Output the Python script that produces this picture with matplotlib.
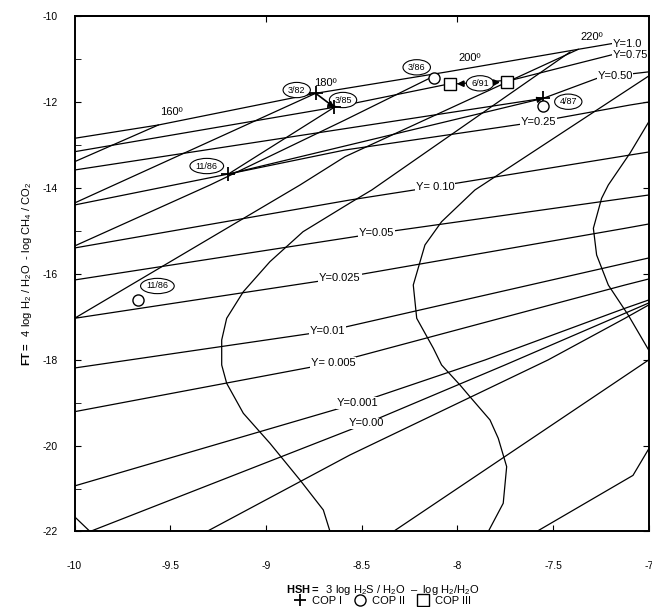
import numpy as np
import matplotlib
matplotlib.use("Agg")
import matplotlib.pyplot as plt
from matplotlib.lines import Line2D

plt.rcParams['font.family'] = ['Liberation Sans', 'DejaVu Sans']
plt.rcParams['axes.unicode_minus'] = False
plt.rcParams['mathtext.fontset'] = 'custom'
plt.rcParams['mathtext.rm'] = 'Liberation Sans'
plt.rcParams['mathtext.it'] = 'Liberation Sans:italic'
plt.rcParams['mathtext.bf'] = 'Liberation Sans:bold'

# lines of constant Y (HSH, FT)
y100_x = [-10.0, -9.562, -8.740, -8.049, -7.368, -7.19]
y100_y = [-12.847, -12.537, -11.799, -11.297, -10.775, -10.64]
y075_x = [-10.0, -8.643, -8.059, -7.714, -7.19]
y075_y = [-13.159, -12.125, -11.595, -11.490, -10.90]
y050_x = [-10.0, -7.551, -7.265, -7.176, -7.0]
y050_y = [-13.585, -11.916, -11.443, -11.39, -11.30]
y025_x = [-10.0, -9.196, -8.587, -7.578, -7.098, -7.0]
y025_y = [-14.399, -13.678, -13.119, -12.460, -12.072, -12.002]
y010_x = [-10.0, -8.561, -8.117, -7.098, -7.0]
y010_y = [-15.400, -14.283, -13.974, -13.236, -13.166]
y005_x = [-10.0, -8.421, -7.124, -7.0]
y005_y = [-16.145, -15.058, -14.244, -14.167]
y0025_x = [-10.0, -8.613, -7.124, -7.0]
y0025_y = [-17.037, -16.099, -14.942, -14.842]
y001_x = [-10.0, -8.676, -7.124, -7.0]
y001_y = [-18.194, -17.332, -15.757, -15.633]
y0005_x = [-10.0, -8.649, -7.124, -7.0]
y0005_y = [-19.211, -18.077, -16.262, -16.122]
y0001_x = [-10.0, -8.519, -7.855, -7.124, -7.0]
y0001_y = [-20.940, -19.008, -18.007, -16.804, -16.611]
y000_x = [-9.919, -8.473, -7.751, -7.124, -7.0]
y000_y = [-22.0, -19.481, -18.124, -16.920, -16.681]

# isotherms and other grid lines
iso160_x = [-9.562, -10.0]
iso160_y = [-12.537, -13.392]
iso180_x = [-8.740, -10.0]
iso180_y = [-11.799, -14.353]
iso200_x = [-8.10, -8.587, -9.292, -10.0]
iso200_y = [-11.35, -12.421, -13.934, -15.354]
iso220_x = [-7.368, -8.587, -8.822, -10.0]
iso220_y = [-10.775, -13.275, -13.934, -17.037]
curve1_x = [-7.411, -8.447, -8.561, -8.806, -8.979, -9.118, -9.205, -9.231,
            -9.231, -9.205, -9.118, -8.979, -8.822, -8.700, -8.665]
curve1_y = [-10.838, -14.050, -14.353, -15.021, -15.719, -16.418, -17.037, -17.542,
            -18.124, -18.550, -19.248, -19.946, -20.801, -21.499, -22.0]
curve2_x = [-7.0, -7.098, -7.908, -8.082, -8.169, -8.230, -8.212, -8.125,
            -8.082, -7.986, -7.934, -7.829, -7.786, -7.742, -7.760, -7.838]
curve2_y = [-11.397, -11.683, -14.050, -14.788, -15.330, -16.262, -17.037, -17.735,
            -18.124, -18.589, -18.862, -19.404, -19.830, -20.491, -21.343, -22.0]
curve3_x = [-7.0, -7.098, -7.211, -7.246, -7.289, -7.272, -7.211, -7.107, -7.0]
curve3_y = [-12.467, -13.196, -13.934, -14.244, -14.942, -15.563, -16.262, -16.960, -17.775]
linea_x = [-9.309, -8.561, -7.526, -7.124, -7.0]
linea_y = [-22.0, -20.219, -18.007, -17.037, -16.727]
lineb_x = [-8.334, -7.0]
lineb_y = [-22.0, -18.007]
linec_x = [-7.585, -7.082, -7.0]
linec_y = [-22.0, -20.694, -20.079]
lined_x = [-10.0, -9.919]
lined_y = [-21.655, -22.0]
tie1_x = [-8.643, -9.196]
tie1_y = [-12.125, -13.678]
tie2_x = [-9.196, -7.551]
tie2_y = [-13.678, -11.916]

# samples
cop1_x = [-8.740, -8.643, -9.196, -7.551]
cop1_y = [-11.799, -12.125, -13.678, -11.916]
cop2_x = [-8.120, -7.554, -9.667]
cop2_y = [-11.436, -12.088, -16.611]
cop3_x = [-8.038, -7.739]
cop3_y = [-11.583, -11.529]

sample_labels = ['3/82', '3/85', '3/86', '6/91', '4/87', '11/86', '11/86']
sample_x = [-8.839, -8.597, -8.212, -7.881, -7.420, -9.309, -9.567]
sample_y = [-11.723, -11.955, -11.194, -11.567, -11.995, -13.492, -16.285]

temp_labels = ['160º', '180º', '200º', '220º']
temp_x = [-9.492, -8.691, -7.934, -7.298]
temp_y = [-12.228, -11.553, -10.985, -10.482]

x_ticks = [-10, -9.5, -9, -8.5, -8, -7.5, -7]
x_ticklabels = ['-10', '-9.5', '-9', '-8.5', '-8', '-7.5', '-7']
y_ticks = [-10, -12, -14, -16, -18, -20, -22]
y_ticklabels = ['-10', '-12', '-14', '-16', '-18', '-20', '-22']

fig = plt.figure(figsize=(6.52, 6.07), dpi=100)
ax = fig.add_axes([0.1143, 0.1244, 0.8806, 0.8492])

y_lines = [
    (y100_x, y100_y, 'Y=1.0', 5, 'left'),
    (y075_x, y075_y, 'Y=0.75', 4, 'left'),
    (y050_x, y050_y, 'Y=0.50', 3, 'center'),
    (y025_x, y025_y, 'Y=0.25', 3, 'center'),
    (y010_x, y010_y, 'Y= 0.10', 2, 'center'),
    (y005_x, y005_y, 'Y=0.05', 1, 'center'),
    (y0025_x, y0025_y, 'Y=0.025', 1, 'center'),
    (y001_x, y001_y, 'Y=0.01', 1, 'center'),
    (y0005_x, y0005_y, 'Y= 0.005', 1, 'center'),
    (y0001_x, y0001_y, 'Y=0.001', 1, 'center'),
    (y000_x, y000_y, 'Y=0.00', 1, 'center'),
]
for xs, ys, lab, i, ha in y_lines:
    ax.plot(xs, ys, color='black', lw=0.9)
    ax.text(xs[i], ys[i], lab, fontsize=8, ha=ha, va='center', zorder=3,
            bbox=dict(fc='white', ec='none', pad=0.6))

others = [(iso160_x, iso160_y), (iso180_x, iso180_y), (iso200_x, iso200_y),
          (iso220_x, iso220_y), (curve1_x, curve1_y), (curve2_x, curve2_y),
          (curve3_x, curve3_y), (linea_x, linea_y), (lineb_x, lineb_y),
          (linec_x, linec_y), (lined_x, lined_y), (tie1_x, tie1_y)]
for xs, ys in others:
    ax.plot(xs, ys, color='black', lw=0.9)

# 11/86 -> 4/87 with a head at 4/87
ax.annotate('', xy=(tie2_x[1], tie2_y[1]), xytext=(tie2_x[0], tie2_y[0]),
            arrowprops=dict(arrowstyle='-|>', color='black', lw=0.9, mutation_scale=9,
                            shrinkA=0, shrinkB=0), zorder=4)

for t, x, y in zip(temp_labels, temp_x, temp_y):
    ax.text(x, y, t, fontsize=8, ha='center', va='center', zorder=3)

ax.plot(cop1_x, cop1_y, '+', ms=10, mew=1.3, color='black', zorder=6)
ax.plot(cop2_x, cop2_y, 'o', ms=8, mfc='white', mec='black', mew=1, zorder=6)
ax.plot(cop3_x, cop3_y, 's', ms=9, mfc='white', mec='black', mew=1, zorder=6)

for lab, x, y in zip(sample_labels, sample_x, sample_y):
    ax.text(x, y, lab, fontsize=6.5, ha='center', va='center', zorder=5,
            bbox=dict(boxstyle='ellipse,pad=0.1', fc='white', ec='black', lw=0.8))

ax.annotate('', xy=(cop1_x[1], cop1_y[1]), xytext=(cop1_x[0], cop1_y[0]),
            arrowprops=dict(arrowstyle='-|>', color='black', lw=1.2, mutation_scale=8,
                            shrinkA=0, shrinkB=0), zorder=5)
for k in range(2):
    ax.annotate('', xy=(cop3_x[k], cop3_y[k]), xytext=(sample_x[3], sample_y[3]),
                arrowprops=dict(arrowstyle='-|>', color='black', lw=1.5, mutation_scale=8,
                                shrinkA=12, shrinkB=5), zorder=5)

ax.set_xlim(-10, -7)
ax.set_ylim(-22, -10)
ax.set_xticks(x_ticks)
ax.set_xticklabels(x_ticklabels)
ax.set_yticks(y_ticks)
ax.set_yticklabels(y_ticklabels)
ax.set_yticks(np.arange(-21, -10, 2), minor=True)
ax.tick_params(axis='x', direction='in', length=4, pad=21, labelsize=7.5)
ax.tick_params(axis='y', which='both', direction='in', length=4, pad=12, labelsize=7.5, right=True)
ax.tick_params(axis='y', which='minor', right=False)
top = ax.secondary_xaxis('top')
top.set_xticks([-9, -8])
top.tick_params(direction='in', length=4, labeltop=False)
for s in ax.spines.values():
    s.set_linewidth(1.4)
top.spines['top'].set_linewidth(1.4)

ax.set_ylabel(r'$\mathbf{FT=}$  4 log H$_2$ / H$_2$O  - log CH$_4$ / CO$_2$', fontsize=8, labelpad=6)
fig.text(0.587, 1 - 590 / 607, r'$\mathbf{HSH=}$  3 log H$_2$S / H$_2$O  –  log H$_2$/H$_2$O',
         ha='center', va='center', fontsize=8)

handles = [Line2D([], [], ls='none', marker='+', ms=8, mew=1.3, color='black'),
           Line2D([], [], ls='none', marker='o', ms=8, mfc='white', mec='black'),
           Line2D([], [], ls='none', marker='s', ms=8, mfc='white', mec='black')]
fig.legend(handles, ['COP I', 'COP II', 'COP III'], loc='center',
           bbox_to_anchor=(0.587, 1 - 601 / 607), ncol=3, frameon=False, fontsize=8,
           handlelength=1, handletextpad=0.5, columnspacing=1.2, borderpad=0)

fig.savefig('out.png', dpi=100)
